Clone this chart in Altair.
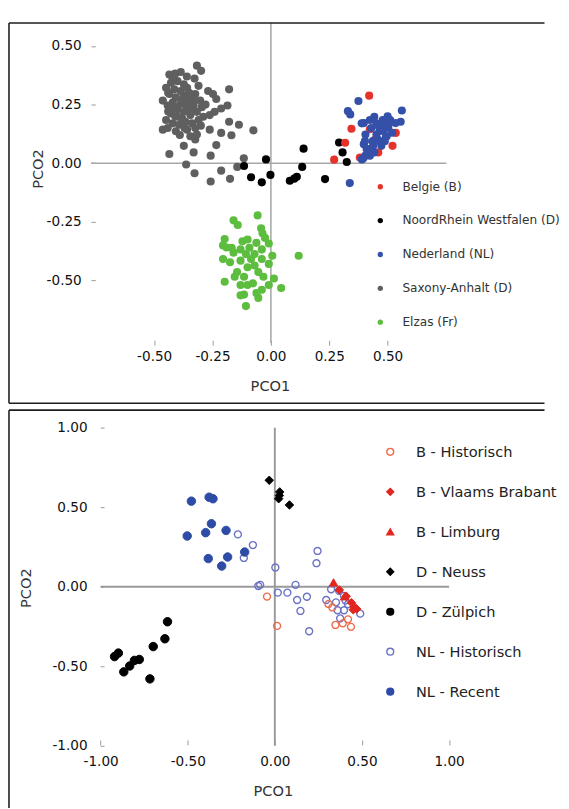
import altair as alt
import pandas as pd

# ---------------- top panel data (PCO1, PCO2) ----------------
top_groups = ["Belgie (B)", "NoordRhein Westfalen (D)", "Nederland (NL)",
              "Saxony-Anhalt (D)", "Elzas (Fr)"]
top_colors = ["#e5322b", "#000000", "#3450a8", "#5f5f5f", "#5cbd3f"]

saxony_x = [-0.317, -0.299, -0.327, -0.435, -0.410, -0.386, -0.179, -0.269, -0.248, -0.234, -0.186, -0.213,
            -0.241, -0.262, -0.463, -0.463, -0.442, -0.179, -0.137, -0.075, -0.262, -0.213, -0.169, -0.324,
            -0.234, -0.373, -0.435, -0.331, -0.258, -0.116, -0.363, -0.327, -0.258, -0.213, -0.175, -0.144,
            -0.428, -0.400, -0.373, -0.414, -0.386, -0.359, -0.435, -0.407, -0.373, -0.345, -0.442, -0.414,
            -0.386, -0.359, -0.331, -0.428, -0.400, -0.373, -0.345, -0.317, -0.449, -0.421, -0.393, -0.366,
            -0.338, -0.310, -0.290, -0.407, -0.359, -0.324, -0.345, -0.317, -0.296, -0.324, -0.303, -0.449,
            -0.440, -0.420, -0.400, -0.380, -0.360, -0.350, -0.330, -0.340, -0.380, -0.410, -0.440, -0.370,
            -0.390, -0.300, -0.280, -0.310, -0.420, -0.360]
saxony_y = [0.416, 0.394, 0.361, 0.378, 0.382, 0.389, 0.315, 0.308, 0.295, 0.274, 0.246, 0.233,
            0.219, 0.205, 0.267, 0.143, 0.150, 0.177, 0.164, 0.140, 0.143, 0.129, 0.119, 0.101,
            0.077, 0.074, 0.039, 0.046, 0.032, 0.021, -0.006, -0.043, -0.078, -0.032, -0.067, -0.016,
            0.343, 0.350, 0.336, 0.315, 0.308, 0.322, 0.295, 0.281, 0.288, 0.274, 0.246, 0.239,
            0.253, 0.239, 0.246, 0.212, 0.198, 0.219, 0.205, 0.219, 0.184, 0.170, 0.164, 0.177,
            0.170, 0.184, 0.198, 0.136, 0.143, 0.150, 0.115, 0.122, 0.239, 0.295, 0.267, 0.322,
            0.300, 0.260, 0.230, 0.270, 0.260, 0.300, 0.270, 0.220, 0.190, 0.200, 0.220, 0.150,
            0.120, 0.160, 0.250, 0.330, 0.360, 0.370]

elzas_x = [-0.057, -0.160, -0.142, -0.042, -0.036, -0.198, -0.122, -0.100, -0.009, -0.205, -0.168, -0.130,
           -0.092, -0.039, 0.006, 0.119, -0.205, -0.175, -0.130, -0.085, -0.039, -0.009, -0.100, -0.054,
           -0.145, -0.032, 0.013, -0.198, -0.130, -0.077, 0.044, -0.039, -0.115, -0.054, -0.130, -0.062,
           -0.107, -0.160, -0.107, -0.070, -0.070, -0.115, -0.155, -0.100, -0.009, -0.190, -0.062, -0.025]
elzas_y = [-0.223, -0.244, -0.264, -0.278, -0.299, -0.324, -0.333, -0.326, -0.343, -0.351, -0.361, -0.368,
           -0.361, -0.368, -0.395, -0.395, -0.409, -0.423, -0.416, -0.409, -0.409, -0.430, -0.444, -0.465,
           -0.465, -0.485, -0.492, -0.506, -0.520, -0.513, -0.533, -0.540, -0.561, -0.575, -0.564, -0.554,
           -0.610, -0.382, -0.388, -0.388, -0.437, -0.485, -0.485, -0.520, -0.520, -0.360, -0.340, -0.319]

noord_x = [-0.115, -0.085, -0.039, -0.021, -0.002, 0.081, 0.100, 0.111, 0.134, 0.140, 0.232, 0.292, 0.307, 0.325]
noord_y = [-0.012, -0.060, -0.082, 0.016, -0.050, -0.075, -0.066, -0.058, -0.016, 0.062, -0.068, 0.088, 0.046, 0.005]

belgie_x = [0.421, 0.345, 0.318, 0.271, 0.381, 0.424, 0.535, 0.521, 0.460, 0.445, 0.490]
belgie_y = [0.288, 0.147, 0.087, 0.015, 0.024, 0.145, 0.129, 0.074, 0.046, 0.100, 0.160]

nederland_x = [0.375, 0.330, 0.340, 0.561, 0.556, 0.398, 0.443, 0.481, 0.511, 0.405, 0.398, 0.405,
               0.390, 0.443, 0.473, 0.496, 0.465, 0.503, 0.534, 0.436, 0.458, 0.421, 0.488, 0.389,
               0.424, 0.452, 0.479, 0.507, 0.396, 0.424, 0.410, 0.438, 0.466, 0.493, 0.452, 0.403,
               0.338, 0.480, 0.460, 0.430, 0.520, 0.500]
nederland_y = [0.265, 0.222, 0.208, 0.225, 0.177, 0.171, 0.198, 0.171, 0.184, 0.122, 0.081, 0.032,
               0.016, 0.046, 0.074, 0.115, 0.136, 0.150, 0.171, 0.094, 0.101, 0.060, 0.094, 0.170,
               0.184, 0.170, 0.184, 0.170, 0.021, 0.032, 0.060, 0.074, 0.094, 0.115, 0.122, 0.094,
               -0.085, 0.140, 0.160, 0.150, 0.130, 0.200]

top_ticks = [-0.5, -0.25, 0.0, 0.25, 0.5]
top_hline = [-0.771, 0.752]   # extent of the PCO2 = 0 reference line
top_vline = [-0.768, 0.598]   # extent of the PCO1 = 0 reference line

# ---------------- bottom panel data ----------------
bot_groups = ["B - Historisch", "B - Vlaams Brabant", "B - Limburg", "D - Neuss",
              "D - Zülpich", "NL - Historisch", "NL - Recent"]
bot_stroke = ["#ee6a4a", "#e3261f", "#e3261f", "#000000", "#000000", "#6b73c4", "#2e4ca6"]
bot_fill = ["transparent", "#e3261f", "#e3261f", "#000000", "#000000", "transparent", "#2e4ca6"]
bot_shape = ["circle", "diamond", "triangle-up", "diamond", "circle", "circle", "circle"]

bhist_x = [-0.045, 0.013, 0.308, 0.348, 0.420, 0.437, 0.330, 0.390]
bhist_y = [-0.062, -0.246, -0.108, -0.240, -0.205, -0.252, -0.130, -0.230]

vlaams_x = [0.370, 0.410, 0.440, 0.455, 0.470, 0.450]
vlaams_y = [-0.020, -0.060, -0.100, -0.125, -0.140, -0.145]

limburg_x = [0.337, 0.400]
limburg_y = [0.027, -0.060]

neuss_x = [-0.032, 0.028, 0.026, 0.022, 0.084]
neuss_y = [0.669, 0.596, 0.573, 0.553, 0.514]

zulpich_x = [-0.616, -0.631, -0.698, -0.898, -0.920, -0.778, -0.806, -0.833, -0.867, -0.717]
zulpich_y = [-0.220, -0.327, -0.376, -0.417, -0.439, -0.457, -0.463, -0.498, -0.535, -0.579]

nlhist_x = [-0.212, -0.126, -0.178, 0.003, -0.084, -0.095, 0.119, 0.245, 0.239, 0.017, 0.072, 0.128,
            0.184, 0.147, 0.197, 0.295, 0.323, 0.369, 0.397, 0.351, 0.360, 0.397, 0.375, 0.490,
            0.406, 0.420]
nlhist_y = [0.329, 0.262, 0.181, 0.121, 0.012, 0.005, 0.012, 0.225, 0.148, -0.037, -0.037, -0.083,
            -0.063, -0.152, -0.280, -0.083, -0.016, -0.026, -0.057, -0.098, -0.148, -0.148, -0.199, -0.169,
            -0.087, -0.110]

nlrecent_x = [-0.479, -0.377, -0.355, -0.364, -0.397, -0.503, -0.280, -0.173, -0.382, -0.271, -0.305]
nlrecent_y = [0.538, 0.563, 0.553, 0.396, 0.340, 0.319, 0.354, 0.218, 0.177, 0.187, 0.130]

bot_ticks = [-1.0, -0.5, 0.0, 0.5, 1.0]
bot_hline = [-1.0, 1.0]
bot_vline = [-1.0, 1.0]


def frame(xs, ys, g, col):
    return pd.DataFrame({"x": xs, "y": ys, col: g})


top_df = pd.concat([
    frame(saxony_x, saxony_y, top_groups[3], "region"),
    frame(elzas_x, elzas_y, top_groups[4], "region"),
    frame(noord_x, noord_y, top_groups[1], "region"),
    frame(belgie_x, belgie_y, top_groups[0], "region"),
    frame(nederland_x, nederland_y, top_groups[2], "region"),
], ignore_index=True)

bot_open_df = pd.concat([
    frame(nlhist_x, nlhist_y, bot_groups[5], "herkomst"),
    frame(bhist_x, bhist_y, bot_groups[0], "herkomst"),
], ignore_index=True)
bot_filled_df = pd.concat([
    frame(nlrecent_x, nlrecent_y, bot_groups[6], "herkomst"),
    frame(limburg_x, limburg_y, bot_groups[2], "herkomst"),
    frame(vlaams_x, vlaams_y, bot_groups[1], "herkomst"),
    frame(neuss_x, neuss_y, bot_groups[3], "herkomst"),
    frame(zulpich_x, zulpich_y, bot_groups[4], "herkomst"),
], ignore_index=True)

top_rules = pd.DataFrame({"x": [top_hline[0], 0.0], "x2": [top_hline[1], 0.0],
                          "y": [0.0, top_vline[0]], "y2": [0.0, top_vline[1]]})
bot_rules = pd.DataFrame({"x": [bot_hline[0], 0.0], "x2": [bot_hline[1], 0.0],
                          "y": [0.0, bot_vline[0]], "y2": [0.0, bot_vline[1]]})

LABEL_EXPR = "(datum.value < 0 ? '-' : '') + format(abs(datum.value), '.2f')"
BORDER = "#1e1e1e"
one_row = pd.DataFrame({"k": [0]})


def frame_border(w, h, with_bottom):
    """Open box (top, left and optionally bottom edges) around a panel."""
    base = alt.Chart(one_row)
    parts = [
        base.mark_rule(color=BORDER, strokeWidth=1.6).encode(
            x=alt.value(0), x2=alt.value(w), y=alt.value(0)),
        base.mark_rule(color=BORDER, strokeWidth=1.6).encode(
            x=alt.value(0), y=alt.value(0), y2=alt.value(h)),
    ]
    if with_bottom:
        parts.append(base.mark_rule(color=BORDER, strokeWidth=1.6).encode(
            x=alt.value(0), x2=alt.value(w), y=alt.value(h)))
    return parts


# ---------------- top panel ----------------
TW, TH = 552, 392
top_xscale = alt.Scale(domain=[-1.122, (8 + TW - 278) / 240.6], nice=False, zero=False)
top_yscale = alt.Scale(domain=[-1.025, 0.598], nice=False, zero=False)
top_xaxis = alt.Axis(values=top_ticks, labelExpr=LABEL_EXPR, offset=-65, tickSize=5, labelPadding=5,
                     title="PCO1", titleX=269, titleY=47, titleBaseline="middle", titleAlign="center")
top_yaxis = alt.Axis(values=top_ticks, labelExpr=LABEL_EXPR, offset=-89, tickSize=4.5, labelPadding=10,
                     title="PCO2", titleX=-59, titleY=150, titleBaseline="middle", titleAlign="center")

top_rule_layer = alt.Chart(top_rules).mark_rule(color="#a8a8a8", strokeWidth=1.6).encode(
    x=alt.X("x:Q", scale=top_xscale, axis=top_xaxis),
    x2="x2:Q",
    y=alt.Y("y:Q", scale=top_yscale, axis=top_yaxis),
    y2="y2:Q",
)
top_points = alt.Chart(top_df).mark_circle(size=70, opacity=1).encode(
    x=alt.X("x:Q", scale=top_xscale, axis=top_xaxis),
    y=alt.Y("y:Q", scale=top_yscale, axis=top_yaxis),
    color=alt.Color("region:N", scale=alt.Scale(domain=top_groups, range=top_colors),
                    legend=alt.Legend(title=None, orient="none", legendX=376.5, legendY=162.5,
                                      symbolType="circle", symbolSize=30, labelFont="DejaVu Sans",
                                      labelFontSize=12.5, labelColor="#333333", rowPadding=21.9,
                                      labelOffset=16.5, labelLimit=400, padding=0)),
)
top = alt.layer(top_rule_layer, top_points, *frame_border(TW, TH, True)).properties(width=TW, height=TH)

# ---------------- bottom panel ----------------
BW, BH = 552, 410
bot_xscale = alt.Scale(domain=[-1.526, (8 + BW - 282) / 179.6], nice=False, zero=False)
bot_yscale = alt.Scale(domain=[-1.390, 1.110], nice=False, zero=False)
bot_xaxis = alt.Axis(values=bot_ticks, labelExpr=LABEL_EXPR, offset=-70, tickSize=5, labelPadding=10,
                     title="PCO1", titleX=272, titleY=52, titleBaseline="middle", titleAlign="center")
bot_yaxis = alt.Axis(values=bot_ticks, labelExpr=LABEL_EXPR, offset=-98, tickSize=4, labelPadding=13.5,
                     title="PCO2", titleX=-81, titleY=183, titleBaseline="middle", titleAlign="center")

bot_legend = alt.Legend(title=None, orient="none", legendX=385.5, legendY=35.5, symbolSize=50,
                        symbolStrokeWidth=1.4, labelFont="DejaVu Sans", labelFontSize=15,
                        labelColor="#222222", rowPadding=25.2, labelOffset=19, labelLimit=400, padding=0)


def bot_encode(chart):
    return chart.encode(
        x=alt.X("x:Q", scale=bot_xscale, axis=bot_xaxis),
        y=alt.Y("y:Q", scale=bot_yscale, axis=bot_yaxis),
        stroke=alt.Stroke("herkomst:N", scale=alt.Scale(domain=bot_groups, range=bot_stroke),
                          legend=bot_legend),
        fill=alt.Fill("herkomst:N", scale=alt.Scale(domain=bot_groups, range=bot_fill),
                      legend=bot_legend),
        shape=alt.Shape("herkomst:N", scale=alt.Scale(domain=bot_groups, range=bot_shape),
                        legend=bot_legend),
    )


bot_rule_layer = alt.Chart(bot_rules).mark_rule(color="#9a9a9a", strokeWidth=2).encode(
    x=alt.X("x:Q", scale=bot_xscale, axis=bot_xaxis),
    x2="x2:Q",
    y=alt.Y("y:Q", scale=bot_yscale, axis=bot_yaxis),
    y2="y2:Q",
)
bot_open = bot_encode(alt.Chart(bot_open_df).mark_point(opacity=1, strokeWidth=1.4, size=52))
bot_filled = bot_encode(alt.Chart(bot_filled_df).mark_point(opacity=1, strokeWidth=1.0, size=76))
bottom = alt.layer(bot_rule_layer, bot_open, bot_filled, *frame_border(BW, BH, False)).properties(
    width=BW, height=BH)

chart = alt.vconcat(top, bottom, spacing=5).resolve_scale(
    color="independent", stroke="independent", fill="independent", shape="independent"
).resolve_legend(
    color="independent", stroke="independent", fill="independent", shape="independent"
).properties(
    padding={"left": 0, "top": 2, "right": 0, "bottom": 0}
).configure_view(
    stroke=None
).configure_axis(
    grid=False, domain=False, labelFont="DejaVu Sans", labelFontSize=14, labelColor="#111111",
    titleFont="DejaVu Sans", titleFontSize=15, titleColor="#333333", titleFontWeight="normal",
    tickColor="#999999", tickWidth=1, labelFlush=False, labelOverlap=False
)

chart.save("out.html", embed_options={"renderer": "svg", "actions": False})
